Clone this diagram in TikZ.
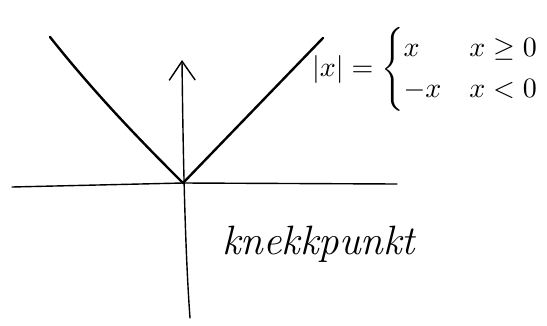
\documentclass[tikz,border=0pt]{standalone}
\usepackage{amsmath}
\usepackage{graphicx}
\usetikzlibrary{arrows.meta}
\begin{document}
\begin{tikzpicture}[x=1pt,y=-1pt,
  axis/.style={line width=1.4pt,line cap=round},
  graph/.style={line width=2.4pt,line cap=round,line join=round},
  lbl/.style={inner sep=0pt}]
\useasboundingbox (0,0) rectangle (547,325);
\coordinate (O) at (183,183);
\coordinate (xl) at (12,187);
\coordinate (xr) at (397,184);
\coordinate (yb) at (190,318);
\coordinate (yt) at (182,60);
\coordinate (L) at (50,37);
\coordinate (R) at (323,38);
% axes
\draw[axis] (xl) -- (O) -- (xr);
\draw[axis,-{Straight Barb[length=19pt,width=26pt,line width=1.4pt]}] (yb) .. controls (185,250) and (183,150) .. (yt);
% graph of |x|
\draw[graph] (L) .. controls (100,100) and (150,150) .. (O) -- (R);
% formula
\node[lbl,anchor=west] (f) at (312,69) {\scalebox{2.8}{\normalsize$|x|=\begin{cases} x & x\ge 0\\ -x & x<0\end{cases}$}};
% label
\node[lbl,anchor=base west] (k) at (222,254) {\fontsize{41}{46}\selectfont\itshape knekkpunkt};
\end{tikzpicture}
\end{document}
